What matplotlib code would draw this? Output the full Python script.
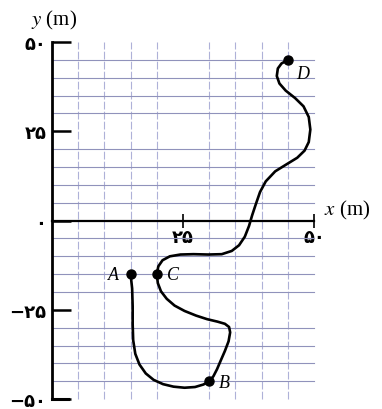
import matplotlib
matplotlib.use("Agg")
import matplotlib.pyplot as plt
import numpy as np

plt.rcParams['font.family'] = ['DejaVu Sans']
plt.rcParams['mathtext.fontset'] = 'stix'

# Path of the particle, A -> B -> C -> D (metres)
path_x = [15.0, 15.3, 15.4, 15.4, 15.5, 15.9, 16.7, 17.9, 19.4, 21.2, 23.2, 25.3, 27.3, 28.9, 30.0,
          30.8, 31.5, 32.2, 33.0, 33.7, 34.0, 33.8, 33.0, 31.6, 29.6, 27.5, 25.3, 23.4, 21.9,
          20.8, 20.2, 20.0, 20.3, 21.1, 22.5, 24.5, 27.0, 29.8, 32.4, 34.3, 35.7, 36.8, 37.6,
          38.2, 38.9, 39.7, 40.8, 42.6, 44.8, 46.8, 48.2, 49.0, 49.3, 49.0, 48.0, 46.4, 44.6,
          43.4, 42.9, 43.1, 43.8, 45.0]
path_y = [-15.0, -19.0, -24.0, -29.0, -33.5, -37.3, -40.3, -42.8, -44.6, -45.8, -46.5, -46.8, -46.6, -45.9, -45.0,
          -43.6, -41.6, -39.2, -36.5, -33.8, -31.3, -29.8, -28.9, -28.3, -27.6, -26.6, -25.3, -23.8, -21.9,
          -19.8, -17.5, -15.0, -12.8, -11.1, -10.0, -9.5, -9.4, -9.5, -9.4, -8.5, -6.9, -4.5, -1.5,
          1.5, 4.6, 8.0, 11.0, 13.8, 15.8, 17.6, 19.6, 22.0, 25.5, 29.0, 32.0, 34.3, 36.4,
          38.4, 40.5, 42.6, 44.0, 45.0]

# Labelled positions
point_names = ['A', 'B', 'C', 'D']
point_x = [15, 30, 20, 45]
point_y = [-15, -45, -15, 45]

x_tick_values = [25, 50]
x_tick_labels = ['۲۵', '۵۰']
y_tick_values = [-50, -25, 0, 25, 50]
y_tick_labels = ['−۵۰', '−۲۵', '۰', '۲۵', '۵۰']

fig = plt.figure(figsize=(3.82, 4.10), dpi=100)
ax = fig.add_axes([0.136, 0.024, 0.686, 0.871])
ax.set_xlim(0, 50)
ax.set_ylim(-50, 50)

# Graph-paper grid: solid rows, lighter dashed columns
ax.set_xticks(np.arange(0, 51, 5), minor=True)
ax.set_yticks(np.arange(-50, 51, 5), minor=True)
ax.grid(which='minor', axis='y', color='#9092bb', linewidth=0.8, clip_on=False)
ax.grid(which='minor', axis='x', color='#aeb1d8', linewidth=0.8, linestyle=(0, (7, 2)),
        clip_on=False)
ax.tick_params(which='minor', length=0)

# Spines: left axis thick, horizontal axis through y = 0
for s in ['top', 'right']:
    ax.spines[s].set_visible(False)
ax.spines['left'].set_linewidth(2.0)
ax.spines['bottom'].set_position(('data', 0))
ax.spines['bottom'].set_linewidth(1.6)
ax.axhline(-50, xmin=0, xmax=0.06, color='black', linewidth=2.2, clip_on=False)

ax.set_yticks(y_tick_values)
ax.set_yticklabels(y_tick_labels, fontsize=13, fontweight='semibold')
ax.tick_params(axis='y', direction='in', length=14, width=1.8, pad=4)

ax.set_xticks(x_tick_values)
ax.set_xticklabels(x_tick_labels, fontsize=13, fontweight='semibold')
ax.tick_params(axis='x', direction='inout', length=10, width=1.2, pad=0)

# Trajectory and labelled points
ax.plot(path_x, path_y, color='black', linewidth=1.9, solid_capstyle='round',
        solid_joinstyle='round', zorder=5)
ax.plot(point_x, point_y, 'o', color='black', markersize=6.5, zorder=6, clip_on=False)

label_offsets = {'A': (-12, 0), 'B': (11, -1), 'C': (12, 0), 'D': (11, -10)}
for name, px, py in zip(point_names, point_x, point_y):
    dx, dy = label_offsets[name]
    ax.annotate(name, (px, py), xytext=(dx, dy), textcoords='offset points',
                ha='center', va='center', fontsize=13, fontstyle='italic',
                family='Liberation Serif', zorder=7)

ax.text(-0.08, 1.03, r'$y$ (m)', transform=ax.transAxes, ha='left', va='bottom',
        fontsize=15, family='Liberation Serif')
ax.text(1.04, 0.5, r'$x$ (m)', transform=ax.transAxes, ha='left', va='bottom',
        fontsize=15, family='Liberation Serif')

fig.savefig('out.png', dpi=100)
